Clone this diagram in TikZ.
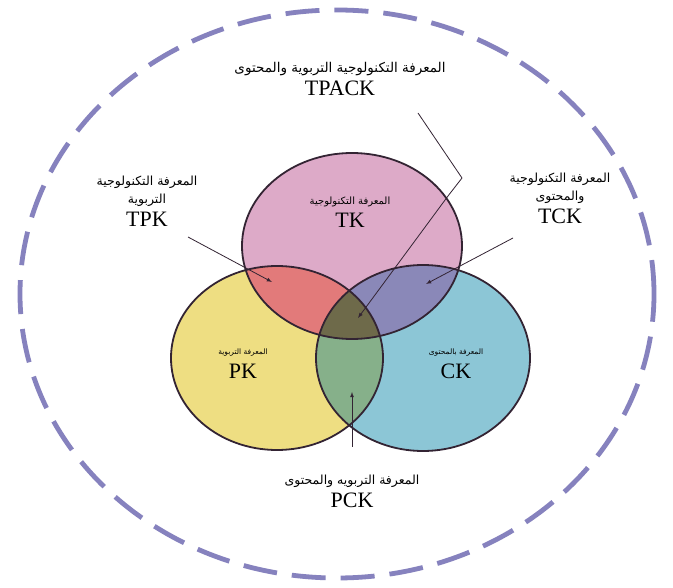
\documentclass[tikz,border=0pt]{standalone}
\usepackage{fontspec}
\setmainfont{Liberation Serif}
\newfontfamily\arabicfont[Script=Arabic]{DejaVu Sans}
\TeXXeTstate=1
\usetikzlibrary{positioning}

\definecolor{ringcol}{HTML}{8682BE}
\definecolor{tkcol}{HTML}{DDAAC8}
\definecolor{pkcol}{HTML}{EEDE82}
\definecolor{ckcol}{HTML}{8CC6D6}
\definecolor{tpkcol}{HTML}{E27A7A}
\definecolor{tckcol}{HTML}{8A88B8}
\definecolor{pckcol}{HTML}{86B08A}
\definecolor{tpackcol}{HTML}{6E6A4A}
\definecolor{edgecol}{HTML}{332433}

\tikzset{
	arlab/.style = {font = \arabicfont\fontsize{12.5}{18}\selectfont, align = center, inner sep = 0pt},
	arsmall/.style = {font = \arabicfont\fontsize{7.5}{9}\selectfont, inner sep = 0pt},
	enlab/.style = {font = \fontsize{22}{24}\selectfont, inner sep = 0pt},
	pointer/.style = {edgecol, thick, -latex},
}

\def\tkpath{(352, 246) ellipse [x radius = 110pt, y radius = 93pt]}
\def\pkpath{(277, 358) ellipse [x radius = 106pt, y radius = 92pt]}
\def\ckpath{(423, 358) ellipse [x radius = 107pt, y radius = 93pt]}

\begin{document}
\begin{tikzpicture}[x = 1pt, y = -1pt]
					\useasboundingbox [fill = white] (0, 0) rectangle (673, 588);
					\draw [ringcol, line width = 4.8pt, dash pattern = on 34pt off 15pt] (337, 294) ellipse [x radius = 317pt, y radius = 284pt];
					\fill [tkcol] \tkpath;
					\fill [pkcol] \pkpath;
					\fill [ckcol] \ckpath;
					\begin{scope}
						\clip \tkpath;
						\fill [tpkcol] \pkpath;
						\fill [tckcol] \ckpath;
					\end{scope}
					\begin{scope}
						\clip \pkpath;
						\fill [pckcol] \ckpath;
						\clip \ckpath;
						\fill [tpackcol] \tkpath;
					\end{scope}
					\draw [edgecol, line width = 1.8pt] \tkpath;
					\draw [edgecol, line width = 1.8pt] \pkpath;
					\draw [edgecol, line width = 1.8pt] \ckpath;
					\node [arlab, font = \arabicfont\fontsize{13.5}{18}\selectfont] (tpackar) at (340, 69) {\beginR المعرفة التكنولوجية التربوية والمحتوى\endR};
					\node [enlab, below = 5pt of tpackar] (tpack) {TPACK};
					\node [arlab] (tpkar) at (147, 191) {\beginR المعرفة التكنولوجية\endR\\\beginR التربوية\endR};
					\node [enlab, below = 5pt of tpkar] (tpk) {TPK};
					\node [arlab] (tckar) at (560, 188) {\beginR المعرفة التكنولوجية\endR\\\beginR والمحتوى\endR};
					\node [enlab, below = 5pt of tckar] (tck) {TCK};
					\node [arsmall, font = \arabicfont\fontsize{10}{12}\selectfont] (tkar) at (350, 202) {\beginR المعرفة التكنولوجية\endR};
					\node [enlab, below = 6pt of tkar] (tk) {TK};
					\node [arsmall] (pkar) at (243, 353) {\beginR المعرفة التربوية\endR};
					\node [enlab, below = 7pt of pkar] (pk) {PK};
					\node [arsmall] (ckar) at (456, 353) {\beginR المعرفة بالمحتوى\endR};
					\node [enlab, below = 7pt of ckar] (ck) {CK};
					\node [arlab] (pckar) at (352, 481) {\beginR المعرفة التربويه والمحتوى\endR};
					\node [enlab, below = 5pt of pckar] (pck) {PCK};
					\coordinate (tpkfrom) at (188, 237);
					\coordinate (tpkto) at (272, 282);
					\coordinate (tckfrom) at (513, 238);
					\coordinate (tckto) at (426, 284);
					\coordinate (tpackfrom) at (418, 113);
					\coordinate (tpackbend) at (462, 178);
					\coordinate (tpackkink) at (448, 196);
					\coordinate (tpackto) at (358, 318);
					\coordinate (pckfrom) at (352, 447);
					\coordinate (pckto) at (352, 392);
					\draw [pointer] (tpkfrom) -- (tpkto);
					\draw [pointer] (tckfrom) -- (tckto);
					\draw [pointer] (tpackfrom) -- (tpackbend) -- (tpackkink) -- (tpackto);
					\draw [pointer] (pckfrom) -- (pckto);
				\end{tikzpicture}
\end{document}
